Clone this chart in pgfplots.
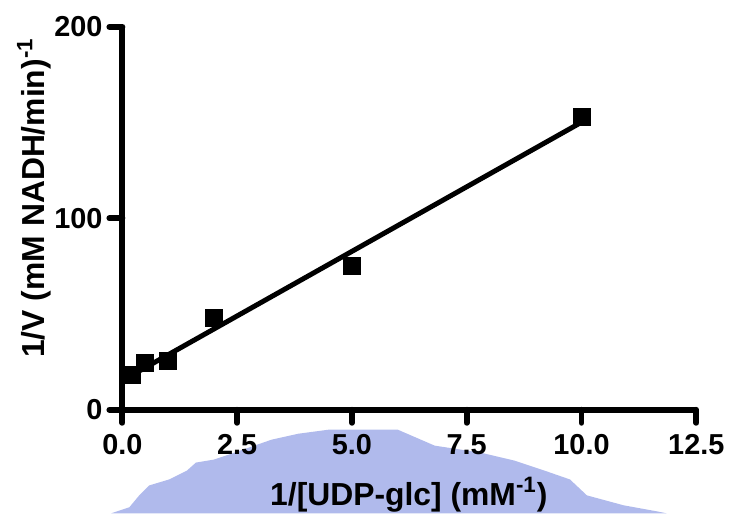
\documentclass[border=0pt]{standalone}
\usepackage{fontspec}
\setmainfont{Liberation Sans}
\usepackage{pgfplots}
\pgfplotsset{compat=1.18}
\definecolor{wmark}{RGB}{176,186,236}

\begin{document}
\begin{tikzpicture}
% pixel frame of the reference: (px,py) -> axis origin at (123,412)
\begin{scope}[x=0.5pt,y=-0.5pt,shift={(-61.5pt,206pt)}]
  \path[use as bounding box] (0,0) rectangle (731,516);
  % faded watermark behind the x label
  \fill[wmark] (112,516) -- (130,510) -- (140,498) -- (150,488) -- (170,482)
    -- (188,473) -- (197,465) -- (215,462) -- (230,457) -- (250,450)
    -- (273,442) -- (300,436) -- (330,432) -- (400,432) -- (437,448)
    -- (483,455) -- (517,463) -- (550,474) -- (573,482) -- (590,498)
    -- (627,508) -- (660,514) -- (670,516) -- cycle;
\end{scope}

\begin{axis}[
  at={(0pt,0pt)}, anchor=south west,
  scale only axis,
  width=288.5pt, height=192.5pt,
  xmin=0, xmax=12.5, ymin=0, ymax=200,
  axis x line=bottom, axis y line=left,
  axis line style={line width=3pt, -},
  xtick={0,2.5,5,7.5,10,12.5},
  ytick={0,100,200},
  minor tick num=0,
  tick align=outside,
  major tick length=6.5pt,
  tick style={line width=3pt, line cap=round, black},
  /pgf/number format/assume math mode=true,
  xticklabel style={yshift=-2.5pt, /pgf/number format/.cd, fixed, fixed zerofill, precision=1},
  tick label style={font=\fontsize{14.5}{17}\selectfont\bfseries},
  clip=false,
]
\addplot[black, line width=2.5pt] coordinates {(0.2,18.0) (10,150.2)};
\addplot[only marks, mark=square*, mark size=4.25pt, black] coordinates {
  (0.2,18.2) (0.5,24.4) (1,25.5) (2,47.8) (5,75.3) (10,153.0)
};
\end{axis}

\begin{scope}[x=0.5pt,y=-0.5pt,shift={(-61.5pt,206pt)}]
  \node[anchor=base, inner sep=0pt, font=\fontsize{16}{19}\selectfont\bfseries]
    at (411,508) {1/[UDP-glc] (mM\textsuperscript{-1})};
  \node[anchor=base, rotate=90, inner sep=0pt, font=\fontsize{16}{19}\selectfont\bfseries]
    at (45,199) {1/V (mM NADH/min)\textsuperscript{-1}};
\end{scope}
\end{tikzpicture}
\end{document}
